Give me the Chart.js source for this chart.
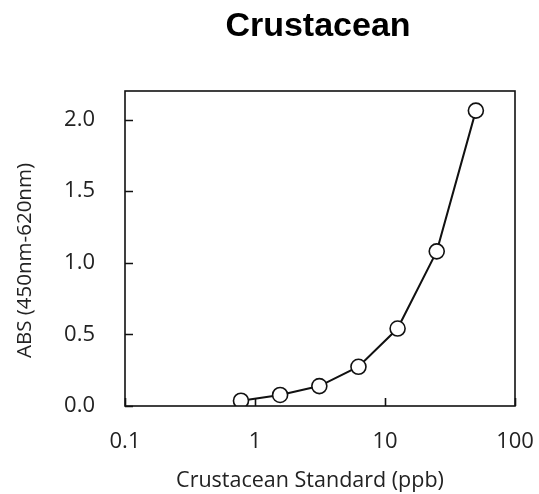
<!DOCTYPE html>
<html>
<head>
<meta charset="utf-8">
<script src="https://cdn.jsdelivr.net/npm/chart.js@4/dist/chart.umd.min.js"></script>
<style>
  html, body { margin: 0; padding: 0; background: #fff; }
  #wrap { width: 539px; height: 494px; }
</style>
</head>
<body>
<div id="wrap"><canvas id="absChart" width="539" height="494"></canvas></div>
<script>
const chartTitle = 'Crustacean';
const xTitle = 'Crustacean Standard (ppb)';
const yTitle = 'ABS (450nm-620nm)';
const concentrations = [0.78, 1.56, 3.125, 6.25, 12.5, 25, 50];
const absorbance = [0.037, 0.077, 0.139, 0.274, 0.541, 1.08, 2.063];
const xTicks = [0.1, 1, 10, 100];
const yTicks = [0, 0.5, 1.0, 1.5, 2.0];

const ink = '#111';
const labelFont = "'Open Sans', 'Liberation Sans', sans-serif";

// frame around plot area + inward tick marks
const frameTicks = {
  id: 'frameTicks',
  afterDatasetsDraw(chart) {
    const { ctx, chartArea: a, scales } = chart;
    ctx.save();
    ctx.strokeStyle = ink;
    ctx.lineWidth = 1.6;
    ctx.strokeRect(a.left, a.top, a.right - a.left, a.bottom - a.top);
    ctx.beginPath();
    yTicks.forEach(v => {
      const y = Math.round(scales.y.getPixelForValue(v)) + 0.5;
      ctx.moveTo(a.left, y);
      ctx.lineTo(a.left + 8, y);
    });
    xTicks.forEach(v => {
      const x = Math.round(scales.x.getPixelForValue(v)) + 0.5;
      ctx.moveTo(x, a.bottom);
      ctx.lineTo(x, a.bottom - 8);
    });
    ctx.stroke();
    ctx.restore();
  }
};

// chart title and axis titles, placed like the original (a bit off-centre)
const titles = {
  id: 'titles',
  afterDraw(chart) {
    const { ctx, chartArea: a } = chart;
    const cx = (a.left + a.right) / 2;
    const cy = (a.top + a.bottom) / 2;
    ctx.save();
    ctx.textAlign = 'center';
    ctx.textBaseline = 'middle';
    ctx.fillStyle = '#000';
    ctx.font = "bold 34px 'Liberation Sans', Arial, sans-serif";
    ctx.fillText(chartTitle, cx - 2, 27);

    ctx.fillStyle = '#222';
    ctx.font = "21.5px " + labelFont;
    ctx.fillText(xTitle, cx - 10, a.bottom + 75);

    ctx.font = "20.5px " + labelFont;
    ctx.translate(25, cy + 12);
    ctx.rotate(-Math.PI / 2);
    ctx.fillText(yTitle, 0, 0);
    ctx.restore();
  }
};

new Chart(document.getElementById('absChart'), {
  type: 'line',
  data: {
    datasets: [{
      data: concentrations.map((c, i) => ({ x: c, y: absorbance[i] })),
      borderColor: ink,
      borderWidth: 2,
      pointRadius: 7.5,
      pointBackgroundColor: '#fff',
      pointBorderColor: ink,
      pointBorderWidth: 1.6,
      tension: 0
    }]
  },
  options: {
    responsive: false,
    animation: false,
    layout: { padding: { top: 91, right: 0, left: 0, bottom: 0 } },
    plugins: { legend: { display: false }, tooltip: { enabled: false }, title: { display: false } },
    scales: {
      x: {
        type: 'logarithmic',
        min: 0.1,
        max: 100,
        afterBuildTicks: s => { s.ticks = xTicks.map(v => ({ value: v })); },
        afterFit: s => { s.height = 88; s.paddingLeft = 0; s.paddingRight = 24; },
        grid: { display: false, drawTicks: false },
        border: { display: false },
        ticks: {
          color: '#222',
          font: { family: labelFont, size: 22 },
          padding: 23,
          maxRotation: 0,
          autoSkip: false,
          callback: v => String(v)
        },
        title: { display: false }
      },
      y: {
        min: 0,
        max: 2.2,
        afterBuildTicks: s => { s.ticks = yTicks.map(v => ({ value: v })); },
        afterFit: s => { s.width = 125; },
        grid: { display: false, drawTicks: false },
        border: { display: false },
        ticks: {
          color: '#222',
          font: { family: labelFont, size: 22 },
          padding: 30,
          callback: v => Number(v).toFixed(1)
        },
        title: { display: false }
      }
    }
  },
  plugins: [frameTicks, titles]
});
</script>
</body>
</html>
